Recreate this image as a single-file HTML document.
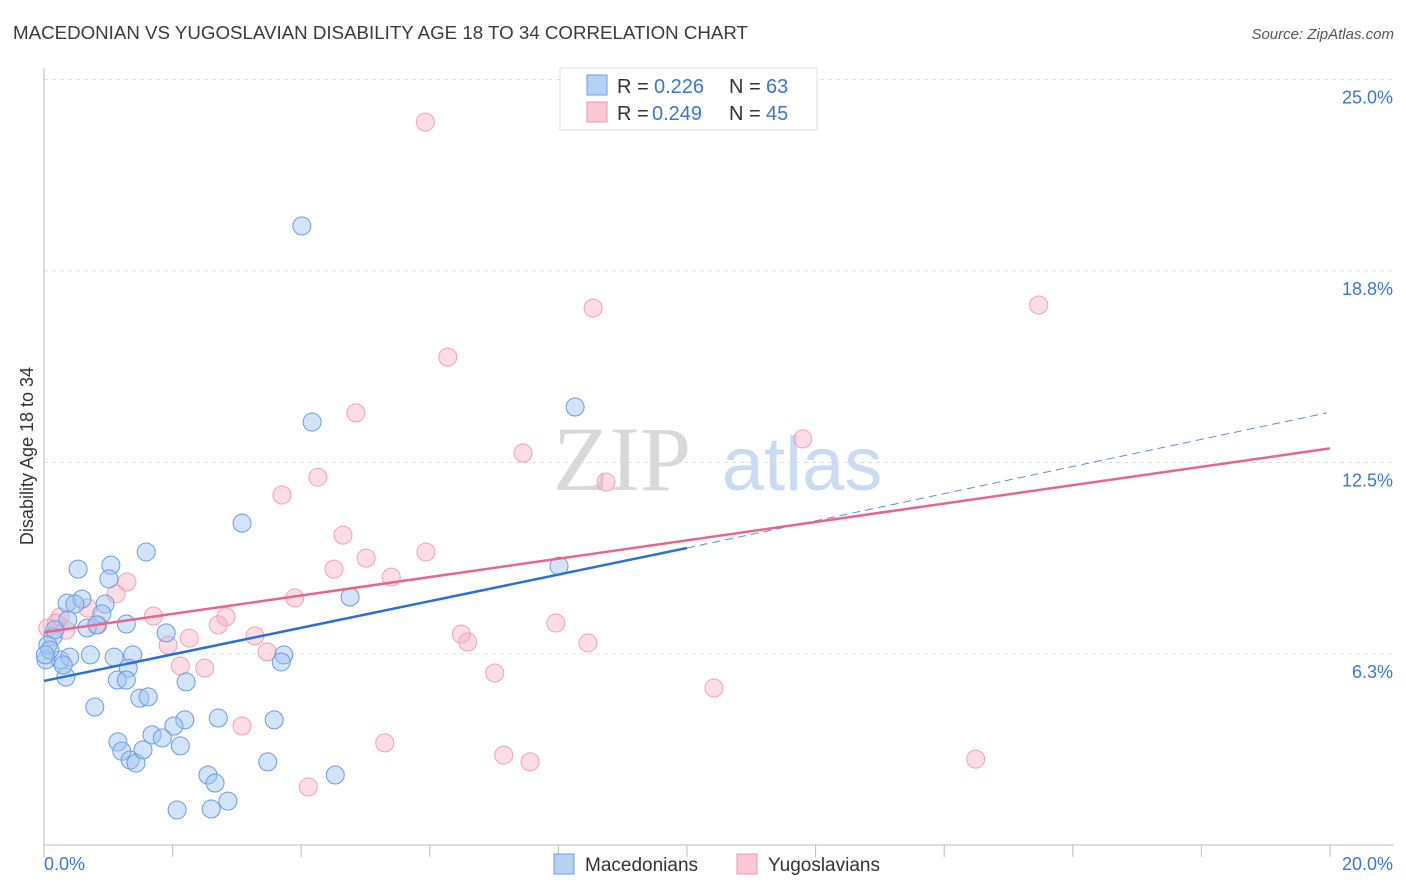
<!DOCTYPE html>
<html><head><meta charset="utf-8">
<style>
body{margin:0;background:#fff;font-family:"Liberation Sans",sans-serif;}
svg{display:block}
</style></head>
<body>
<svg id="chart" width="1406" height="892" xmlns="http://www.w3.org/2000/svg" font-family="Liberation Sans, sans-serif">
<text x="13" y="39" font-size="18" fill="#3a3a3a" textLength="735" lengthAdjust="spacingAndGlyphs">MACEDONIAN VS YUGOSLAVIAN DISABILITY AGE 18 TO 34 CORRELATION CHART</text>
<text x="1394" y="39" font-size="15" fill="#555" text-anchor="end" font-style="italic">Source: ZipAtlas.com</text>
<g>
<text x="622" y="490" font-size="92" fill="#d8d8d8" font-family="Liberation Serif, serif" text-anchor="middle">ZIP</text>
<text x="802" y="490" font-size="76" fill="#c9dbf3" text-anchor="middle">atlas</text>
</g>
<g id="grid"></g>
<g id="axes"></g>
<g id="pts"></g>
<g id="trends"></g>
<text transform="translate(33,456) rotate(-90)" font-size="18" fill="#333" text-anchor="middle">Disability Age 18 to 34</text>
<g>
<rect x="560" y="68" width="257" height="62" fill="#fff" stroke="#ddd"/>
<g>
<rect x="587" y="75" width="20" height="20" fill="#b7d1f5" stroke="#6a9ee0"/>
<text x="617" y="93" font-size="20" fill="#333">R = </text><text x="654" y="93" font-size="20" fill="#3a76d0">0.226</text>
<text x="729" y="93" font-size="20" fill="#333">N = </text><text x="766" y="93" font-size="20" fill="#3a76d0">63</text>
</g>
<g>
<rect x="587" y="102" width="20" height="20" fill="#fbc8d6" stroke="#ee95ae"/>
<text x="617" y="120" font-size="20" fill="#333">R = </text><text x="652" y="120" font-size="20" fill="#3a76d0">0.249</text>
<text x="729" y="120" font-size="20" fill="#333">N = </text><text x="766" y="120" font-size="20" fill="#3a76d0">45</text>
</g>
</g>
<g>
<g>
<rect x="554" y="854" width="20" height="20" fill="#b7d1f5" stroke="#6a9ee0"/>
<text x="585" y="871" font-size="19" fill="#333">Macedonians</text></g>
<g>
<rect x="737" y="854" width="20" height="20" fill="#fbc8d6" stroke="#ee95ae"/>
<text x="768" y="871" font-size="19" fill="#333">Yugoslavians</text></g>
</g>
</svg>
<script>
const yTicks=[6.25,12.5,18.75,25];
const yTickLabels=["6.3%","12.5%","18.8%","25.0%"];
const xTicks=[0,2,4,6,8,10,12,14,16,18,20];
const macX=[4.01,4.17,8.26,3.08,1.59,1.04,0.53,1.01,8.01,4.76,0.36,0.59,0.95,0.48,0.90,0.37,0.67,0.82,1.28,1.90,0.14,0.06,0.17,0.25,0.40,0.72,1.09,1.38,1.31,0.34,1.14,1.28,2.21,1.49,1.62,3.73,3.69,0.79,2.71,2.19,2.02,3.58,1.68,1.84,1.15,1.21,1.34,1.43,1.54,2.12,2.55,2.66,3.48,4.53,2.86,2.60,2.07,0.03,0.09,0.30,0.02];
const macY=[20.22,13.82,14.31,10.52,9.58,9.15,9.02,8.70,9.12,8.11,7.91,8.04,7.88,7.88,7.56,7.36,7.10,7.20,7.23,6.94,6.81,6.54,7.04,6.06,6.15,6.22,6.15,6.22,5.79,5.50,5.40,5.40,5.34,4.81,4.85,6.22,5.99,4.52,4.16,4.10,3.90,4.10,3.61,3.51,3.38,3.08,2.79,2.69,3.12,3.25,2.30,2.04,2.73,2.30,1.45,1.19,1.16,6.06,6.38,5.89,6.22];
const yugX=[5.93,8.54,15.47,6.28,4.85,11.80,7.45,8.74,4.26,3.70,4.65,5.01,5.94,4.51,5.40,1.29,1.12,3.90,1.70,0.68,2.83,2.71,0.84,0.34,0.19,0.06,3.28,2.26,1.93,6.49,6.59,7.96,8.46,2.12,2.50,3.47,7.01,10.42,3.08,5.30,7.15,7.56,14.49,4.11,0.25];
const yugY=[23.61,17.54,17.64,15.94,14.12,13.27,12.81,11.86,12.02,11.44,10.13,9.38,9.58,9.02,8.76,8.60,8.21,8.08,7.49,7.75,7.46,7.20,7.20,7.03,7.26,7.10,6.84,6.77,6.54,6.90,6.64,7.26,6.61,5.86,5.79,6.32,5.63,5.14,3.90,3.35,2.95,2.73,2.82,1.91,7.46];
const macTrend=[5.37,9.71,14.12];   // at x=0, 10, 19.95
const yugTrend=[6.96,12.96];        // at x=0, 20
const NS="http://www.w3.org/2000/svg";
const X=v=>44+v/20*1286;
const Y=v=>845.5-v/25*766;
function mk(t,a,p){const e=document.createElementNS(NS,t);for(const k in a)e.setAttribute(k,a[k]);p.appendChild(e);return e;}
const grid=document.getElementById('grid'),axes=document.getElementById('axes'),pts=document.getElementById('pts'),tr=document.getElementById('trends');
yTicks.forEach((t,i)=>{
 const l=mk('line',{x1:44,x2:1394,y1:Y(t),y2:Y(t),stroke:'#ddd','stroke-dasharray':'4,4'},grid);
 
 
 const tx=mk('text',{x:1393,y:Y(t)+24,'font-size':18,fill:'#3a76d0','text-anchor':'end'},axes);
 tx.textContent=yTickLabels[i];
 
 
});
mk('line',{x1:44,x2:44,y1:68,y2:845,stroke:'#bbb'},axes);
mk('line',{x1:44,x2:1394,y1:845,y2:845,stroke:'#bbb'},axes);
xTicks.forEach(t=>{const l=mk('line',{x1:X(t),x2:X(t),y1:845,y2:857,stroke:'#bbb'},axes);
 
 });
let a=mk('text',{x:44,y:870,'font-size':18,fill:'#3a76d0'},axes);a.textContent='0.0%';


a=mk('text',{x:1393,y:870,'font-size':18,fill:'#3a76d0','text-anchor':'end'},axes);a.textContent='20.0%';


yugX.forEach((x,i)=>{const c=mk('circle',{cx:X(x),cy:Y(yugY[i]),r:9,fill:'rgba(247,170,193,0.4)',stroke:'#ef9fb7','stroke-width':1},pts);
 
 });
macX.forEach((x,i)=>{const c=mk('circle',{cx:X(x),cy:Y(macY[i]),r:9,fill:'rgba(160,195,240,0.45)',stroke:'#6a9ae0','stroke-width':1},pts);
 
 });
let t1=mk('line',{x1:X(0),y1:Y(macTrend[0]),x2:X(10),y2:Y(macTrend[1]),stroke:'#2a6fd6','stroke-width':2.5},tr);


let t2=mk('line',{x1:X(10),y1:Y(macTrend[1]),x2:X(19.95),y2:Y(macTrend[2]),stroke:'#5b8fd9','stroke-width':1,'stroke-dasharray':'8,5'},tr);


let t3=mk('line',{x1:X(0),y1:Y(yugTrend[0]),x2:X(20),y2:Y(yugTrend[1]),stroke:'#e5668f','stroke-width':2.5},tr);


</script>
</body></html>
